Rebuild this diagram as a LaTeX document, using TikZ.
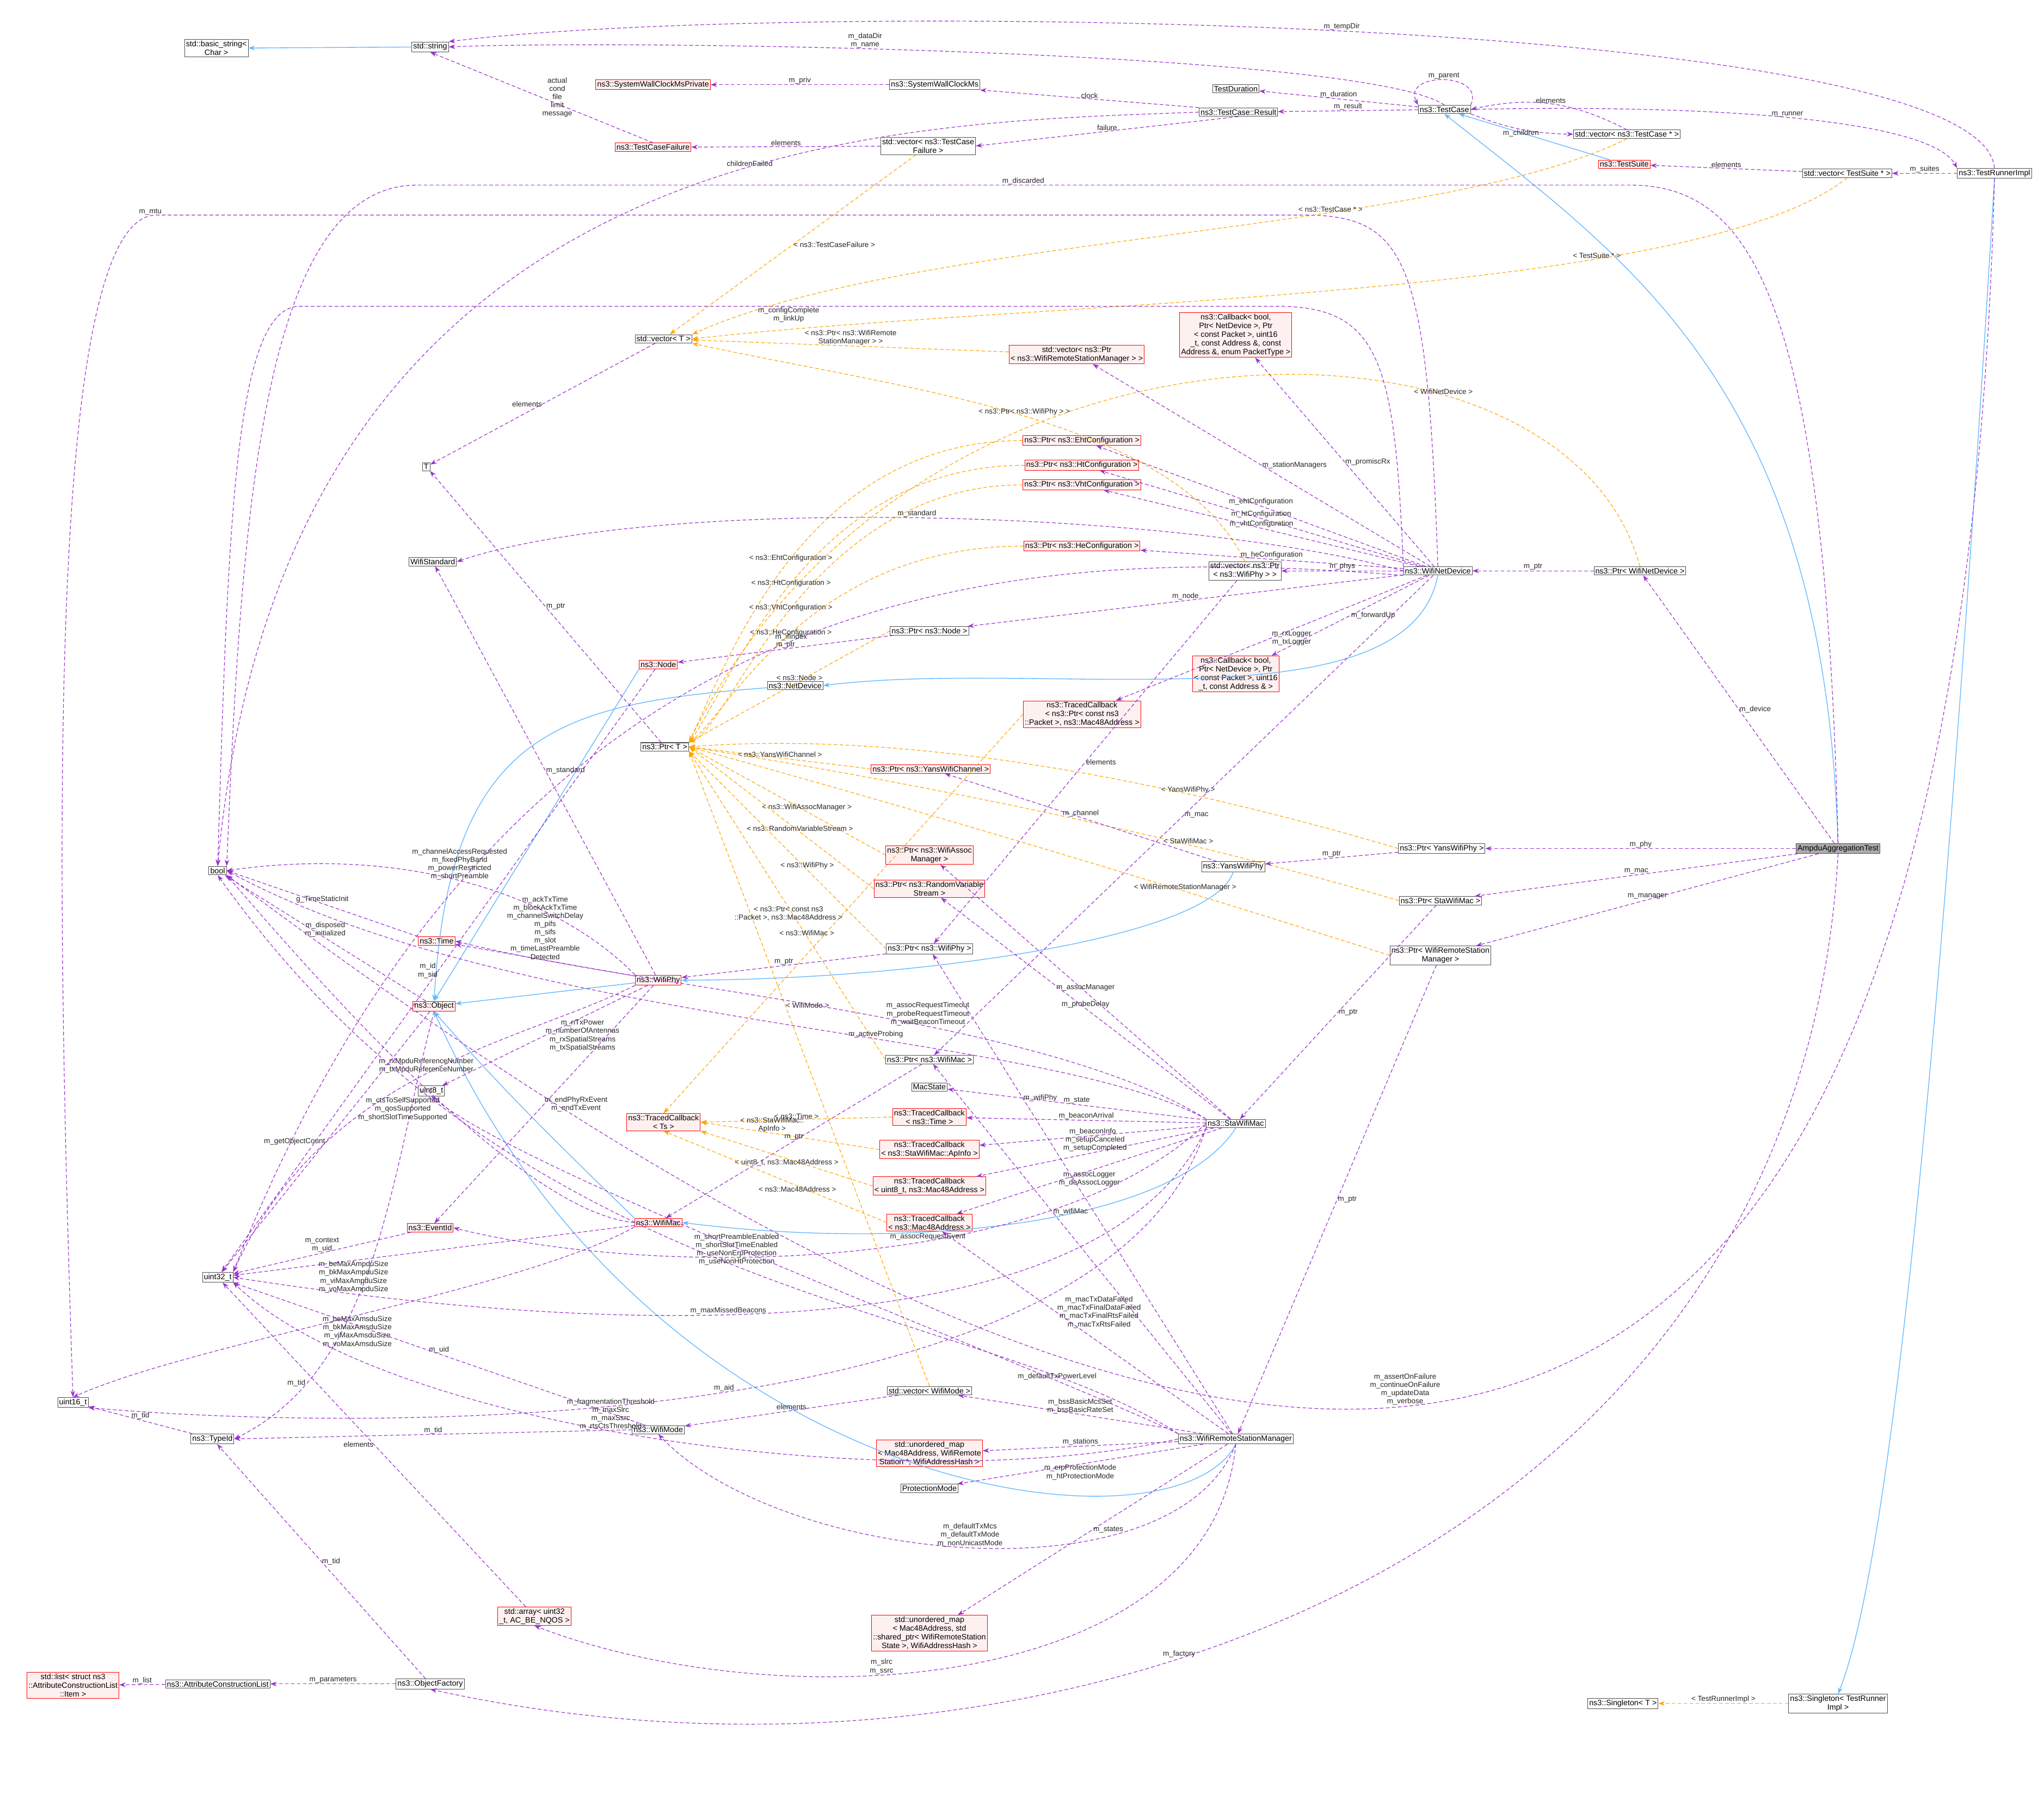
\documentclass[tikz,border=0pt]{standalone}
\usepackage{fontspec}
\newfontfamily\hv{Liberation Sans}
\usetikzlibrary{arrows.meta}
\definecolor{pu}{HTML}{9A32CD}
\definecolor{bl}{HTML}{63B8FF}
\definecolor{orc}{HTML}{FFA500}
\definecolor{rf}{HTML}{FFF0F0}
\begin{document}
\begin{tikzpicture}[x=1mm,y=-1mm,
 n/.style={draw=black!70,fill=white,line width=1.2pt,inner sep=3pt,align=center,font=\hv\fontsize{17}{19}\selectfont},
 r/.style={n,draw=red,fill=rf},
 g/.style={n,fill=gray!65},
 lb/.style={font=\hv\fontsize{16}{18}\selectfont,align=center,inner sep=1pt,text=black!85},
 u/.style={draw=pu,dash pattern=on 8pt off 5pt,line width=1.4pt,-{Stealth[length=14pt,width=10pt]}},
 ih/.style={draw=bl,line width=1.6pt,-{Stealth[length=14pt,width=10pt]}},
 tp/.style={draw=orc,dash pattern=on 8pt off 5pt,line width=1.4pt,-{Stealth[length=14pt,width=10pt]}}]
\fill[white] (0,0) rectangle (1568,1377);
\useasboundingbox (0,0) rectangle (1568,1377);
% nodes
\node[n] (bstr) at (166,37) {std::basic\_string<\\Char >};
\node[n] (sstr) at (330,36) {std::string};
\node[r] (swp) at (501,65) {ns3::SystemWallClockMsPrivate};
\node[n] (swc) at (717,65) {ns3::SystemWallClockMs};
\node[n] (tdur) at (948,68) {TestDuration};
\node[n] (tc) at (1108,84) {ns3::TestCase};
\node[n] (tcr) at (950,86) {ns3::TestCase::Result};
\node[n] (vtc) at (1248,103) {std::vector< ns3::TestCase * >};
\node[r] (tcf) at (501,113) {ns3::TestCaseFailure};
\node[n] (vtcf) at (712,112) {std::vector< ns3::TestCase\\Failure >};
\node[r] (ts) at (1246,126) {ns3::TestSuite};
\node[n] (vts) at (1417,133) {std::vector< TestSuite * >};
\node[n] (tri) at (1530,133) {ns3::TestRunnerImpl};
\node[n] (vT) at (509,260) {std::vector< T >};
\node[r] (vpw) at (826,272) {std::vector< ns3::Ptr\\< ns3::WifiRemoteStationManager > >};
\node[r] (cbp) at (948,257) {ns3::Callback< bool,\\Ptr< NetDevice >, Ptr\\< const Packet >, uint16\\\_t, const Address \&, const\\Address \&, enum PacketType >};
\node[n] (T) at (327,358) {T};
\node[r] (peht) at (830,338) {ns3::Ptr< ns3::EhtConfiguration >};
\node[r] (pht) at (830,357) {ns3::Ptr< ns3::HtConfiguration >};
\node[r] (pvht) at (830,372) {ns3::Ptr< ns3::VhtConfiguration >};
\node[n] (wstd) at (332,431) {WifiStandard};
\node[r] (phe) at (830,419) {ns3::Ptr< ns3::HeConfiguration >};
\node[n] (vpp) at (955,438) {std::vector< ns3::Ptr\\< ns3::WifiPhy > >};
\node[n] (wnd) at (1103,438) {ns3::WifiNetDevice};
\node[n] (pwnd) at (1258,438) {ns3::Ptr< WifiNetDevice >};
\node[n] (pnode) at (713,484) {ns3::Ptr< ns3::Node >};
\node[r] (node) at (505,510) {ns3::Node};
\node[n] (nd) at (610,526) {ns3::NetDevice};
\node[r] (cbf) at (948,517) {ns3::Callback< bool,\\Ptr< NetDevice >, Ptr\\< const Packet >, uint16\\\_t, const Address \& >};
\node[n] (pT) at (510,573) {ns3::Ptr< T >};
\node[r] (tcpk) at (830,548) {ns3::TracedCallback\\< ns3::Ptr< const ns3\\::Packet >, ns3::Mac48Address >};
\node[r] (pych) at (714,590) {ns3::Ptr< ns3::YansWifiChannel >};
\node[r] (pwam) at (713,656) {ns3::Ptr< ns3::WifiAssoc\\Manager >};
\node[n] (pyp) at (1106,651) {ns3::Ptr< YansWifiPhy >};
\node[g] (amp) at (1410,651) {AmpduAggregationTest};
\node[n] (yp) at (946,665) {ns3::YansWifiPhy};
\node[r] (prv) at (713,682) {ns3::Ptr< ns3::RandomVariable\\Stream >};
\node[n] (psm) at (1105,691) {ns3::Ptr< StaWifiMac >};
\node[n] (bool) at (167,668) {bool};
\node[n] (pwrsm) at (1105,733) {ns3::Ptr< WifiRemoteStation\\Manager >};
\node[r] (time) at (335,722) {ns3::Time};
\node[n] (pwp) at (713,728) {ns3::Ptr< ns3::WifiPhy >};
\node[r] (wphy) at (505,752) {ns3::WifiPhy};
\node[r] (obj) at (333,772) {ns3::Object};
\node[n] (pwm) at (713,813) {ns3::Ptr< ns3::WifiMac >};
\node[n] (mst) at (713,834) {MacState};
\node[n] (u8) at (331,837) {uint8\_t};
\node[r] (tcts) at (509,861) {ns3::TracedCallback\\< Ts >};
\node[r] (tctime) at (713,857) {ns3::TracedCallback\\< ns3::Time >};
\node[n] (sta) at (948,862) {ns3::StaWifiMac};
\node[r] (tcap) at (713,882) {ns3::TracedCallback\\< ns3::StaWifiMac::ApInfo >};
\node[r] (tcu8) at (713,910) {ns3::TracedCallback\\< uint8\_t, ns3::Mac48Address >};
\node[r] (tcm) at (713,938) {ns3::TracedCallback\\< ns3::Mac48Address >};
\node[r] (evt) at (330,942) {ns3::EventId};
\node[r] (wmac) at (505,938) {ns3::WifiMac};
\node[n] (u32) at (167,980) {uint32\_t};
\node[n] (vwm) at (713,1067) {std::vector< WifiMode >};
\node[n] (u16) at (56,1076) {uint16\_t};
\node[n] (tid) at (163,1104) {ns3::TypeId};
\node[n] (wmode) at (505,1097) {ns3::WifiMode};
\node[n] (wrsm) at (948,1104) {ns3::WifiRemoteStationManager};
\node[r] (um1) at (713,1115) {std::unordered\_map\\< Mac48Address, WifiRemote\\Station *, WifiAddressHash >};
\node[n] (pm) at (713,1142) {ProtectionMode};
\node[r] (arr) at (410,1240) {std::array< uint32\\\_t, AC\_BE\_NQOS >};
\node[r] (um2) at (713,1253) {std::unordered\_map\\< Mac48Address, std\\::shared\_ptr< WifiRemoteStation\\State >, WifiAddressHash >};
\node[r] (lst) at (56,1293) {std::list< struct ns3\\::AttributeConstructionList\\::Item >};
\node[n] (acl) at (167,1292) {ns3::AttributeConstructionList};
\node[n] (of) at (330,1292) {ns3::ObjectFactory};
\node[n] (sgt) at (1245,1307) {ns3::Singleton< T >};
\node[n] (sgtr) at (1410,1307) {ns3::Singleton< TestRunner\\Impl >};
% inheritance
\draw[ih] (sstr) -- (bstr);
\draw[ih] (ts) -- (tc);
\draw[ih] (amp) .. controls (1400,300) and (1250,200) .. (tc.south);
\draw[ih] (tri.south) .. controls (1490,800) and (1450,1200) .. (sgtr.north);
\draw[ih] (node.south west) -- (obj.north);
\draw[ih] (nd) .. controls (430,540) and (345,560) .. (obj.north);
\draw[ih] (wnd.south) .. controls (1080,560) and (800,505) .. (nd.east);
\draw[ih] (wphy) -- (obj);
\draw[ih] (yp.south) .. controls (930,720) and (700,752) .. (wphy.east);
\draw[ih] (wmac.north west) .. controls (420,870) and (380,830) .. (obj.south);
\draw[ih] (sta.south) .. controls (900,940) and (700,960) .. (wmac.east);
\draw[ih] (wrsm.south) .. controls (900,1200) and (500,1150) .. (obj.south);
% template
\draw[tp] (vtcf) -- node[lb,pos=0.5,right]{< ns3::TestCaseFailure >} (vT);
\draw[tp] (vtc.south) .. controls (1100,180) and (700,180) .. node[lb,pos=0.35,above]{< ns3::TestCase * >} (vT.north east);
\draw[tp] (vts.south) .. controls (1300,230) and (800,230) .. node[lb,pos=0.3,above]{< TestSuite * >} (vT.east);
\draw[tp] (vpw) -- node[lb,above]{< ns3::Ptr< ns3::WifiRemote\\StationManager > >} (vT);
\draw[tp] (vpp.north) .. controls (900,320) and (700,300) .. node[lb,pos=0.5,above]{< ns3::Ptr< ns3::WifiPhy > >} (vT.south east);
\draw[tp] (pwnd.north) .. controls (1200,220) and (700,220) .. node[lb,pos=0.3,above]{< WifiNetDevice >} (pT.north east);
\draw[tp] (sgtr) -- node[lb,above]{< TestRunnerImpl >} (sgt);
\draw[tp] (peht.west) .. controls (620,338) and (560,502) .. node[lb,pos=0.5]{< ns3::EhtConfiguration >} (pT.north east);
\draw[tp] (pht.west) .. controls (620,357) and (560,527) .. node[lb,pos=0.5]{< ns3::HtConfiguration >} (pT.north east);
\draw[tp] (pvht.west) .. controls (620,372) and (560,558) .. node[lb,pos=0.5]{< ns3::VhtConfiguration >} (pT.north east);
\draw[tp] (phe.west) .. controls (620,419) and (560,546) .. node[lb,pos=0.5]{< ns3::HeConfiguration >} (pT.north east);
\draw[tp] (pnode.west) -- node[lb,pos=0.45,above]{< ns3::Node >} (pT.north east);
\draw[tp] (pych.west) -- node[lb,pos=0.5,above]{< ns3::YansWifiChannel >} (pT.east);
\draw[tp] (pwam.west) -- node[lb,pos=0.4,above]{< ns3::WifiAssocManager >} (pT.east);
\draw[tp] (prv.west) -- node[lb,pos=0.4,above]{< ns3::RandomVariableStream >} (pT.east);
\draw[tp] (pwp.west) -- node[lb,pos=0.4,above]{< ns3::WifiPhy >} (pT.south east);
\draw[tp] (pwm.west) -- node[lb,pos=0.4,above]{< ns3::WifiMac >} (pT.south east);
\draw[tp] (vwm.north) -- node[lb,pos=0.6,right]{< WifiMode >} (pT.south east);
\draw[tp] (pyp.west) .. controls (900,600) and (700,560) .. node[lb,pos=0.3,above]{< YansWifiPhy >} (pT.east);
\draw[tp] (psm.west) .. controls (900,640) and (700,600) .. node[lb,pos=0.3,above]{< StaWifiMac >} (pT.east);
\draw[tp] (pwrsm.west) .. controls (900,680) and (700,620) .. node[lb,pos=0.3,above]{< WifiRemoteStationManager >} (pT.east);
\draw[tp] (tcpk.west) -- node[lb,pos=0.5,left]{< ns3::Ptr< const ns3\\::Packet >, ns3::Mac48Address >} (tcts.north);
\draw[tp] (tctime.west) -- node[lb,above]{< ns3::Time >} (tcts.east);
\draw[tp] (tcap.west) -- node[lb,pos=0.6,above]{< ns3::StaWifiMac::\\ApInfo >} (tcts.east);
\draw[tp] (tcu8.west) -- node[lb,pos=0.5,below]{< uint8\_t, ns3::Mac48Address >} (tcts.south east);
\draw[tp] (tcm.west) -- node[lb,pos=0.4,below]{< ns3::Mac48Address >} (tcts.south);
% usage
\draw[u] (tri.north) .. controls (1520,10) and (600,0) .. node[lb,pos=0.5,above]{m\_tempDir} (sstr.north east);
\draw[u] (tc.north) .. controls (1050,40) and (500,30) .. node[lb,pos=0.6,above]{m\_dataDir\\m\_name} (sstr.east);
\draw[u] (tcf.north) -- node[lb,pos=0.5,right]{actual\\cond\\file\\limit\\message} (sstr.south);
\draw[u] (swc) -- node[lb,above]{m\_priv} (swp);
\draw[u] (tcr.north west) -- node[lb,above]{clock} (swc.south east);
\draw[u] (tc) -- node[lb,above]{m\_duration} (tdur);
\draw[u] (tc) -- node[lb,above]{m\_result} (tcr);
\draw[u] (tc.north east) .. controls (1140,55) and (1075,55) .. node[lb,above]{m\_parent} (tc.north west);
\draw[u] (vtc.north) to[bend right=20] node[lb,above]{elements} (tc.east);
\draw[u] (tc.south east) to[bend right=10] node[lb,below]{m\_children} (vtc.west);
\draw[u] (tcr.south) -- node[lb,above]{failure} (vtcf.east);
\draw[u] (vtcf) -- node[lb,above]{elements} (tcf);
\draw[u] (tcr.west) .. controls (700,95) and (220,90) .. node[lb,pos=0.4,above]{childrenFailed} (bool.north);
\draw[u] (vts) -- node[lb,above]{elements} (ts);
\draw[u] (tri) -- node[lb,above]{m\_suites} (vts);
\draw[u] (tc.east) .. controls (1300,80) and (1480,90) .. node[lb,pos=0.5,above]{m\_runner} (tri.north west);
\draw[u] (amp.north) .. controls (1400,220) and (1340,142) .. (1250,142) -- node[lb,above]{m\_discarded} (320,142) .. controls (200,142) and (185,400) .. (bool.north east);
\draw[u] (tri.south) .. controls (1500,1280) and (1000,1290) .. node[lb,pos=0.55,above]{m\_assertOnFailure\\m\_continueOnFailure\\m\_updateData\\m\_verbose} (bool.south east);
\draw[u] (vT) -- node[lb,left]{elements} (T);
\draw[u] (pT) -- node[lb,right]{m\_ptr} (T);
\draw[u] (wnd.north) .. controls (1095,200) and (1080,165) .. (1000,165) -- (120,165) .. controls (40,165) and (40,600) .. node[lb,pos=0.02,above]{m\_mtu} (u16.north);
\draw[u] (wnd.north west) .. controls (1070,280) and (1060,235) .. (980,235) -- node[lb,pos=0.5,below]{m\_configComplete\\m\_linkUp} (230,235) .. controls (180,235) and (175,400) .. (bool.north);
\draw[u] (wnd) -- node[lb,right]{m\_stationManagers} (vpw);
\draw[u] (wnd) -- node[lb,right]{m\_promiscRx} (cbp);
\draw[u] (wnd) -- node[lb,above]{m\_ehtConfiguration} (peht);
\draw[u] (wnd) -- node[lb,above]{m\_htConfiguration} (pht);
\draw[u] (wnd) -- node[lb,above]{m\_vhtConfiguration} (pvht);
\draw[u] (wnd) -- node[lb,above]{m\_heConfiguration} (phe);
\draw[u] (wnd) -- node[lb,above]{m\_phys} (vpp);
\draw[u] (wnd.west) .. controls (900,390) and (500,380) .. node[lb,pos=0.5,above]{m\_standard} (wstd.east);
\draw[u] (pwnd) -- node[lb,above]{m\_ptr} (wnd);
\draw[u] (wnd) -- node[lb,above]{m\_node} (pnode);
\draw[u] (wnd) -- node[lb,right]{m\_forwardUp} (cbf);
\draw[u] (wnd) -- node[lb,right]{m\_rxLogger\\m\_txLogger} (tcpk);
\draw[u] (wnd) -- node[lb,right]{m\_mac} (pwm);
\draw[u] (wnd.south west) .. controls (800,420) and (400,420) .. node[lb,pos=0.5,above]{m\_ifIndex} (u32.north east);
\draw[u] (pnode) -- node[lb,above]{m\_ptr} (node);
\draw[u] (node) -- node[lb,left]{m\_id\\m\_sid} (u32);
\draw[u] (yp) -- node[lb,above]{m\_channel} (pych);
\draw[u] (pyp) -- node[lb,above]{m\_ptr} (yp);
\draw[u] (amp) -- node[lb,above]{m\_phy} (pyp);
\draw[u] (psm) -- node[lb,right]{m\_ptr} (sta);
\draw[u] (amp) -- node[lb,above]{m\_mac} (psm);
\draw[u] (pwrsm) -- node[lb,right]{m\_ptr} (wrsm);
\draw[u] (amp) -- node[lb,above]{m\_manager} (pwrsm);
\draw[u] (amp) -- node[lb,right]{m\_device} (pwnd);
\draw[u] (amp.south) .. controls (1380,1200) and (800,1400) .. node[lb,pos=0.6,above]{m\_factory} (of.south);
\draw[u] (vpp) -- node[lb,right]{elements} (pwp);
\draw[u] (pwp) -- node[lb,above]{m\_ptr} (wphy);
\draw[u] (pwm) -- node[lb,above]{m\_ptr} (wmac);
\draw[u] (sta) -- node[lb,above]{m\_assocManager} (pwam);
\draw[u] (sta) -- node[lb,above]{m\_probeDelay} (prv);
\draw[u] (sta) -- node[lb,above]{m\_state} (mst);
\draw[u] (sta) -- node[lb,above]{m\_beaconArrival} (tctime);
\draw[u] (sta) -- node[lb,above]{m\_beaconInfo} (tcap);
\draw[u] (sta) -- node[lb,above]{m\_setupCanceled\\m\_setupCompleted} (tcu8);
\draw[u] (sta) -- node[lb,below]{m\_assocLogger\\m\_deAssocLogger} (tcm);
\draw[u] (sta.north west) .. controls (800,780) and (500,760) .. node[lb,pos=0.4,above]{m\_assocRequestTimeout\\m\_probeRequestTimeout\\m\_waitBeaconTimeout} (time.east);
\draw[u] (sta.north west) .. controls (800,790) and (400,790) .. node[lb,pos=0.4,above]{m\_activeProbing} (bool.east);
\draw[u] (sta.west) .. controls (800,980) and (500,980) .. node[lb,pos=0.4,above]{m\_assocRequestEvent} (evt.east);
\draw[u] (sta.south west) .. controls (850,1030) and (500,1030) .. node[lb,pos=0.6,above]{m\_maxMissedBeacons} (u32.east);
\draw[u] (sta.south west) .. controls (850,1100) and (300,1100) .. node[lb,pos=0.5,above]{m\_aid} (u16.south east);
\draw[u] (wphy) -- node[lb,right]{m\_standard} (wstd);
\draw[u] (wphy.north west) .. controls (420,680) and (300,650) .. node[lb,pos=0.5,above]{m\_channelAccessRequested\\m\_fixedPhyBand\\m\_powerRestricted\\m\_shortPreamble} (bool.east);
\draw[u] (wphy) -- node[lb,above]{m\_ackTxTime\\m\_blockAckTxTime\\m\_channelSwitchDelay\\m\_pifs\\m\_sifs\\m\_slot\\m\_timeLastPreamble\\Detected} (time);
\draw[u] (wphy) -- node[lb,right]{m\_nTxPower\\m\_numberOfAntennas\\m\_rxSpatialStreams\\m\_txSpatialStreams} (u8);
\draw[u] (wphy) -- node[lb,right]{m\_endPhyRxEvent\\m\_endTxEvent} (evt);
\draw[u] (wphy.south west) .. controls (400,800) and (250,820) .. node[lb,pos=0.5,above]{m\_rxMpduReferenceNumber\\m\_txMpduReferenceNumber} (u32.north east);
\draw[u] (obj) -- node[lb,above]{m\_disposed\\m\_initialized} (bool);
\draw[u] (obj) -- node[lb,left]{m\_getObjectCount} (u32);
\draw[u] (obj.south) .. controls (300,900) and (290,1050) .. node[lb,pos=0.8,left]{m\_tid} (tid.east);
\draw[u] (time.north west) -- node[lb,above]{g\_TimeStaticInit} (bool.east);
\draw[u] (wmac.west) .. controls (400,930) and (250,760) .. node[lb,pos=0.45,left]{m\_ctsToSelfSupported\\m\_qosSupported\\m\_shortSlotTimeSupported} (bool.south east);
\draw[u] (wmac) -- node[lb,pos=0.7,below]{m\_beMaxAmpduSize\\m\_bkMaxAmpduSize\\m\_viMaxAmpduSize\\m\_voMaxAmpduSize} (u32);
\draw[u] (wmac.south west) .. controls (400,990) and (150,1030) .. node[lb,pos=0.5,below]{m\_beMaxAmsduSize\\m\_bkMaxAmsduSize\\m\_viMaxAmsduSize\\m\_voMaxAmsduSize} (u16.north);
\draw[u] (evt) -- node[lb,above]{m\_context\\m\_uid} (u32);
\draw[u] (tid) -- node[lb,above]{m\_tid} (u16);
\draw[u] (wmode) -- node[lb,above]{m\_uid} (u32);
\draw[u] (wmode.west) -- node[lb,above]{m\_tid} (tid.east);
\draw[u] (vwm) -- node[lb,above]{elements} (wmode);
\draw[u] (wrsm) -- node[lb,above]{m\_bssBasicMcsSet\\m\_bssBasicRateSet} (vwm);
\draw[u] (wrsm) -- node[lb,above]{m\_stations} (um1);
\draw[u] (wrsm) -- node[lb,below]{m\_erpProtectionMode\\m\_htProtectionMode} (pm);
\draw[u] (wrsm) -- node[lb,right]{m\_states} (um2);
\draw[u] (wrsm.south) .. controls (930,1300) and (600,1320) .. node[lb,pos=0.6,above]{m\_slrc\\m\_ssrc} (arr.south);
\draw[u] (wrsm.south) .. controls (900,1230) and (600,1200) .. node[lb,pos=0.5,above]{m\_defaultTxMcs\\m\_defaultTxMode\\m\_nonUnicastMode} (wmode.south);
\draw[u] (wrsm.west) .. controls (700,1150) and (300,1100) .. node[lb,pos=0.55,above]{m\_fragmentationThreshold\\m\_maxSlrc\\m\_maxSsrc\\m\_rtsCtsThreshold} (u32.south east);
\draw[u] (wrsm.north west) .. controls (750,1000) and (400,1000) .. node[lb,pos=0.5,above]{m\_shortPreambleEnabled\\m\_shortSlotTimeEnabled\\m\_useNonErpProtection\\m\_useNonHtProtection} (bool.south);
\draw[u] (wrsm.north west) .. controls (800,1050) and (400,900) .. node[lb,pos=0.2,above]{m\_defaultTxPowerLevel} (u8.south);
\draw[u] (wrsm) -- node[lb,pos=0.6,right]{m\_wifiMac} (pwm);
\draw[u] (wrsm) -- node[lb,pos=0.7,right]{m\_wifiPhy} (pwp);
\draw[u] (wrsm) -- node[lb,pos=0.6,right]{m\_macTxDataFailed\\m\_macTxFinalDataFailed\\m\_macTxFinalRtsFailed\\m\_macTxRtsFailed} (tcm);
\draw[u] (arr) -- node[lb,left]{elements} (u32);
\draw[u] (of) -- node[lb,above]{m\_parameters} (acl);
\draw[u] (of) -- node[lb,right]{m\_tid} (tid);
\draw[u] (acl) -- node[lb,above]{m\_list} (lst);
\end{tikzpicture}
\end{document}
